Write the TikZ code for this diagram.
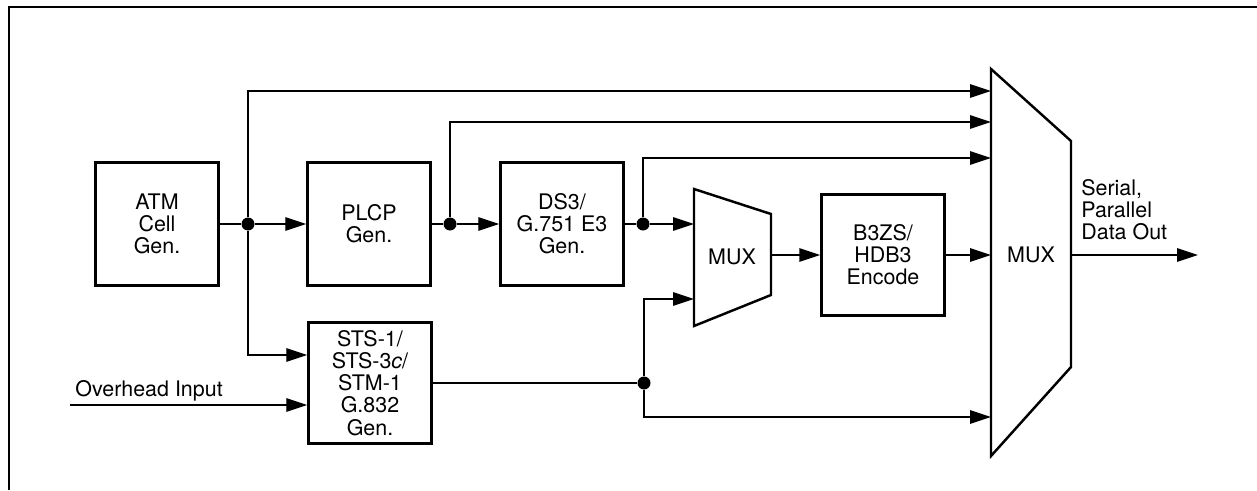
\documentclass[tikz,border=0pt]{standalone}
\usepackage{fontspec}
\setmainfont{TeX Gyre Heros}
\usepackage{tikz}
\usetikzlibrary{arrows.meta,positioning,calc}

\begin{document}
\begin{tikzpicture}[
    x=0.02cm, y=-0.02cm,
    box/.style={draw, line width=1.4pt, align=center, inner sep=0pt, minimum width=2.46cm, minimum height=2.46cm, font=\fontsize{12.2}{12.6}\selectfont},
    lbl/.style={inner sep=0pt, align=left, font=\fontsize{12.2}{12.6}\selectfont},
    muxshape/.style={draw, line width=1.4pt, line join=miter},
    ln/.style={line width=0.8pt},
    arr/.style={-{Triangle[length=0.42cm, width=0.27cm]}, line width=0.8pt},
    dot/.style={circle, fill, inner sep=0pt, minimum size=0.26cm}
  ]
    \useasboundingbox (0,0) rectangle (1257,490);
    \draw[line width=0.8pt] (9,490) -- (9,7) -- (1257,7);
    \node[box] (atm) at (157,224) {ATM\\Cell\\Gen.};
    \node[box] (plcp) at (369,224) {PLCP\\Gen.};
    \node[box] (ds3) at (562,224) {DS3/\\G.751 E3\\Gen.};
    \node[box, minimum height=2.42cm] (sts) at (370,383) {STS-1/\\STS-3\textit{c}/\\STM-1\\G.832\\Gen.};
    \node[box, minimum height=2.42cm] (enc) at (883,255) {B3ZS/\\HDB3\\Encode};
    \draw[muxshape] (694,189) -- (771,214) -- (771,295) -- (694,326) -- cycle;
    \node[lbl] (smux) at (732,257) {MUX};
    \draw[muxshape] (991,69) -- (1071,141) -- (1071,367) -- (991,456) -- cycle;
    \node[lbl] (bmux) at (1031,255) {MUX};
    \node[dot] (j1) at (248,224) {};
    \node[dot] (j2) at (450,224) {};
    \node[dot] (j3) at (643,224) {};
    \node[dot] (j4) at (644,383) {};
    \coordinate (sin1) at (694,224);
    \coordinate (sin2) at (694,299);
    \coordinate (sout) at (771,255);
    \coordinate (bin1) at (991,91);
    \coordinate (bin2) at (991,122);
    \coordinate (bin3) at (991,158);
    \coordinate (bin4) at (991,255);
    \coordinate (bin5) at (991,417);
    \coordinate (bout) at (1071,255);
    \coordinate (dout) at (1198,255);
    \coordinate (ohin) at (70,405);
    \node[lbl, anchor=base west] (ohlbl) at (75,396) {Overhead Input};
    \node[lbl, anchor=north west] (outlbl) at (1081,179) {Serial,\\Parallel\\Data Out};
    \draw[ln] (atm) -- (j1);
    \draw[arr] (j1) -- (plcp);
    \draw[arr] (j1) |- ([yshift=0.56cm]sts.west);
    \draw[arr] (j1) |- (bin1);
    \draw[ln] (plcp) -- (j2);
    \draw[arr] (j2) -- (ds3);
    \draw[arr] (j2) |- (bin2);
    \draw[ln] (ds3) -- (j3);
    \draw[arr] (j3) -- (sin1);
    \draw[arr] (j3) |- (bin3);
    \draw[arr] (ohin) -- (sts.west |- ohin);
    \draw[ln] (sts) -- (j4);
    \draw[arr] (j4) |- (sin2);
    \draw[arr] (j4) |- (bin5);
    \draw[arr] (sout) -- (enc);
    \draw[arr] (enc) -- (bin4);
    \draw[arr] (bout) -- (dout);
  \end{tikzpicture}
\end{document}
